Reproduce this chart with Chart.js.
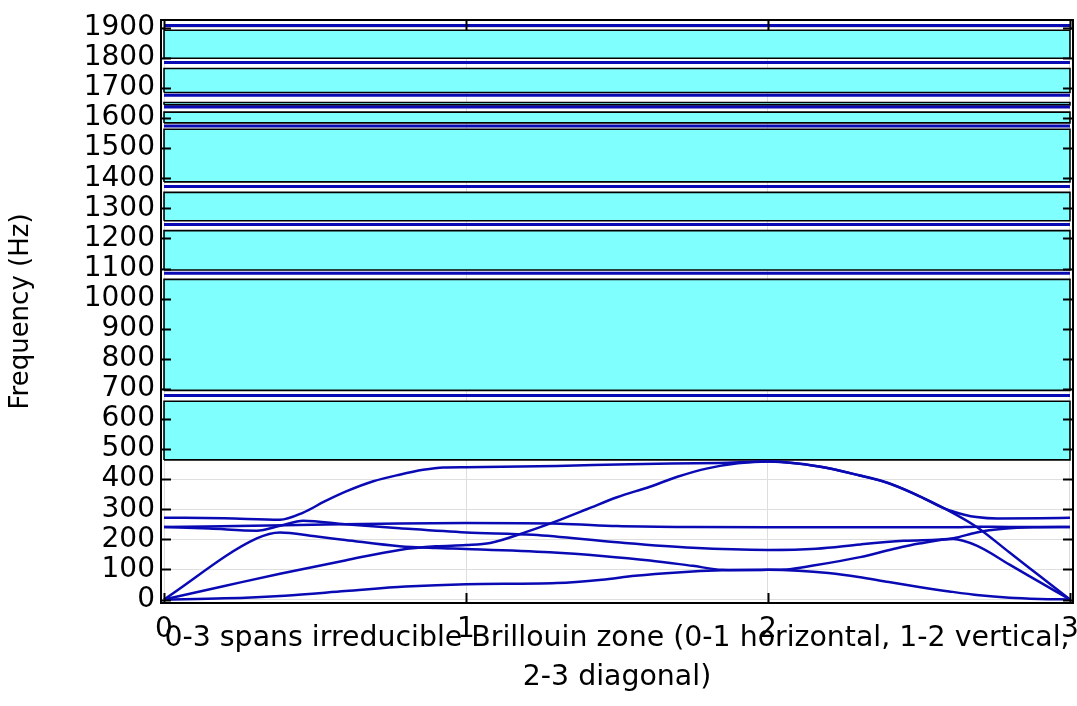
<!DOCTYPE html>
<html>
<head>
<meta charset="utf-8">
<script src="https://cdn.jsdelivr.net/npm/chart.js@4.4.0/dist/chart.umd.min.js"></script>
<style>
  html, body { margin: 0; padding: 0; background: #fff; }
  canvas { display: block; }
</style>
</head>
<body>
<canvas id="bandChart" width="1077" height="706"></canvas>
<script>
// band gaps in Hz (lower edge / upper edge)
const gapLow  = [464, 695, 1095, 1259, 1388, 1584, 1644, 1685, 1799];
const gapHigh = [659, 1064, 1226, 1353, 1563, 1620, 1652, 1765, 1892];

// almost dispersionless bands between the gaps (Hz)
const flatBands = [678, 1084, 1246, 1373, 1574, 1637, 1676, 1785, 1908];

// lowest six bands along the path, [k, frequency Hz]
const band1 = [[0,0],[0.2,4],[0.4,13],[0.6,28],[0.8,43],[1,51],[1.3,55],[1.45,66],[1.56,79],[1.7,90],[1.85,97],[2,99],[2.1,96],[2.2,88],[2.3,75],[2.4,58],[2.5,42],[2.6,27],[2.7,14],[2.8,6],[2.9,2],[3,0]];
const band2 = [[0,0],[0.2,45],[0.384,86],[0.6,130],[0.78,165],[0.9,177],[1,181],[1.08,188],[1.2,225],[1.311,265],[1.4,300],[1.5,340],[1.609,375],[1.7,408],[1.8,436],[1.9,453],[2,459],[2.1,452],[2.2,436],[2.3,413],[2.4,387],[2.49,349],[2.59,300],[2.69,242],[2.8,156],[2.9,78],[3,0]];
const band3 = [[0,0],[0.307,203],[0.384,223],[0.5,210],[0.6,198],[0.78,177],[0.9,171],[1,168],[1.278,157],[1.45,145],[1.609,130],[1.75,112],[1.85,99],[1.95,98],[2,99],[2.06,100],[2.15,113],[2.305,141],[2.415,168],[2.5,186],[2.614,201],[2.691,179],[2.8,116],[2.9,58],[3,0]];
const band4 = [[0,272],[0.2,270],[0.384,265],[0.461,289],[0.53,325],[0.605,360],[0.693,393],[0.78,415],[0.858,431],[0.925,439],[1,440],[1.3,444],[1.543,450],[1.84,454],[2,459],[2.17,442],[2.305,412],[2.38,393],[2.49,349],[2.59,300],[2.65,282],[2.69,274],[2.76,269],[2.9,270],[3,272]];
const band5 = [[0,241],[0.15,236],[0.307,229],[0.384,245],[0.461,262],[0.6,250],[0.78,237],[1,223],[1.222,215],[1.5,190],[1.75,172],[2,165],[2.16,169],[2.305,183],[2.45,195],[2.614,204],[2.691,223],[2.78,235],[2.88,240],[3,241]];
const band6 = [[0,241],[0.4,247],[0.78,253],[1,254],[1.311,252],[1.5,244],[1.75,241],[2,240],[2.614,240],[2.691,242],[2.8,241],[3,241]];

const kTicks = [0, 1, 2, 3];
const freqStep = 100;
const freqRange = [-11.5, 1926];

const xTitle = ['0-3 spans irreducible Brillouin zone (0-1 horizontal, 1-2 vertical,', '2-3 diagonal)'];
const yTitle = 'Frequency (Hz)';

const kStart = kTicks[0];
const kEnd = kTicks[kTicks.length - 1];
const BLUE = '#0a0ab4';
const FONT = "'DejaVu Sans', sans-serif";

const toPoints = arr => arr.map(([k, f]) => ({ x: k, y: f }));

// gap rectangles, outlined and filled cyan
const gapSets = gapLow.map((lo, i) => ({
  data: [
    { x: kStart, y: lo }, { x: kEnd, y: lo },
    { x: kEnd, y: gapHigh[i] }, { x: kStart, y: gapHigh[i] },
    { x: kStart, y: lo }
  ],
  borderColor: '#000',
  borderWidth: 1.6,
  backgroundColor: '#80ffff',
  fill: 'shape',
  tension: 0,
  order: 3
}));

const flatSets = flatBands.map(f => ({
  data: [{ x: kStart, y: f }, { x: kEnd, y: f }],
  borderColor: BLUE,
  borderWidth: 3,
  fill: false,
  order: 1
}));

const curveSets = [band1, band2, band3, band4, band5, band6].map(b => ({
  data: toPoints(b),
  borderColor: BLUE,
  borderWidth: 2.5,
  fill: false,
  cubicInterpolationMode: 'monotone',
  order: 1
}));

// black frame with inward ticks on all four sides
const framePlugin = {
  id: 'frame',
  afterDatasetsDraw(chart) {
    const { ctx, chartArea: a, scales: { x, y } } = chart;
    ctx.save();
    ctx.strokeStyle = '#000';
    ctx.lineWidth = 2;
    ctx.strokeRect(a.left, a.top, a.right - a.left, a.bottom - a.top);
    ctx.beginPath();
    y.ticks.forEach(t => {
      const py = Math.round(y.getPixelForValue(t.value)) + 0.5;
      ctx.moveTo(a.left, py); ctx.lineTo(a.left + 10, py);
      ctx.moveTo(a.right, py); ctx.lineTo(a.right - 10, py);
    });
    x.ticks.forEach(t => {
      const px = Math.round(x.getPixelForValue(t.value)) + 0.5;
      ctx.moveTo(px, a.bottom); ctx.lineTo(px, a.bottom - 10);
      ctx.moveTo(px, a.top); ctx.lineTo(px, a.top + 10);
    });
    ctx.stroke();
    ctx.restore();
  }
};

new Chart(document.getElementById('bandChart'), {
  type: 'line',
  data: { datasets: [...curveSets, ...flatSets, ...gapSets] },
  options: {
    responsive: false,
    animation: false,
    devicePixelRatio: 1,
    layout: { padding: { top: 14, right: 4, left: 0, bottom: 0 } },
    elements: { point: { radius: 0, hoverRadius: 0 } },
    plugins: { legend: { display: false }, tooltip: { enabled: false } },
    scales: {
      x: {
        type: 'linear',
        min: kStart - 0.01,
        max: kEnd + 0.01,
        afterFit: s => {
          s.height = 103;
          // let the end labels hang over the edges instead of shrinking the plot
          s.paddingLeft = 0;
          s.paddingRight = 0;
        },
        afterBuildTicks: s => { s.ticks = kTicks.map(v => ({ value: v })); },
        grid: { color: '#dedede', lineWidth: 1, drawTicks: false },
        border: { display: false },
        ticks: { color: '#000', padding: 10, font: { family: FONT, size: 28 }, maxRotation: 0, callback: v => String(v) },
        title: {
          display: true,
          text: xTitle,
          color: '#000',
          font: { family: FONT, size: 28.4, lineHeight: 1.4 },
          padding: { top: 0, bottom: 8 }
        }
      },
      y: {
        type: 'linear',
        min: freqRange[0],
        max: freqRange[1],
        afterFit: s => { s.width = 161; },
        ticks: {
          stepSize: freqStep,
          includeBounds: false,
          autoSkip: false,
          color: '#000',
          padding: 6,
          font: { family: FONT, size: 28, lineHeight: 1 },
          callback: v => String(v)
        },
        grid: { color: '#dedede', lineWidth: 1, drawTicks: false },
        border: { display: false },
        title: {
          display: true,
          text: yTitle,
          color: '#000',
          font: { family: FONT, size: 26 },
          padding: { top: 6, bottom: 0 }
        }
      }
    }
  },
  plugins: [framePlugin]
});
</script>
</body>
</html>
